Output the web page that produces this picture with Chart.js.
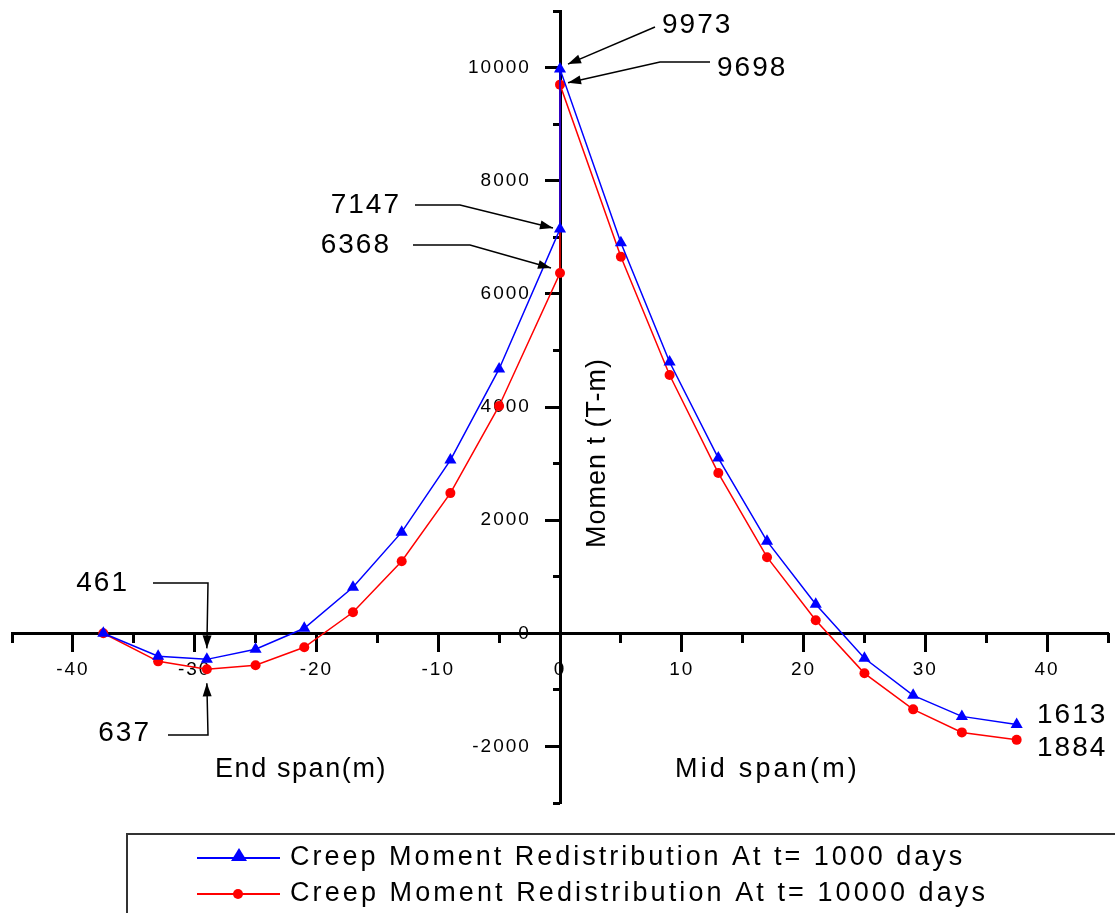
<!DOCTYPE html>
<html lang="en">

<head>
    <meta charset="UTF-8">
    <title>Creep Moment Redistribution</title>
    <script src="https://cdn.jsdelivr.net/npm/chart.js"></script>
    <style>
        html, body { margin: 0; padding: 0; background: #fff; }
        #wrap { width: 1115px; height: 913px; }
    </style>
</head>

<body>
    <div id="wrap"><canvas id="grafico"></canvas></div>
</body>

</html>

<script>
    // dados (x em m, momento em T-m)
    const spanX = [-37.5, -33, -29, -25, -21, -17, -13, -9, -5, 0, 0, 5, 9, 13, 17, 21, 25, 29, 33, 37.5];
    const moment1000 = [0, -407, -461, -283, 88, 814, 1788, 3062, 4673, 7147, 9973, 6903, 4796, 3097, 1628, 513, -442, -1097, -1469, -1613];
    const moment10000 = [0, -496, -637, -566, -248, 372, 1274, 2478, 4018, 6368, 9698, 6655, 4566, 2832, 1345, 230, -708, -1345, -1752, -1884];
    const seriesLabels = ['Creep Moment Redistribution At t= 1000 days', 'Creep Moment Redistribution At t= 10000 days'];

    const xTicks = [-40, -30, -20, -10, 0, 10, 20, 30, 40];
    const xMinorTicks = [-45, -35, -25, -15, -5, 5, 15, 25, 35, 45];
    const yTicks = [-2000, 0, 2000, 4000, 6000, 8000, 10000];
    const yMinorTicks = [-3000, -1000, 1000, 3000, 5000, 7000, 9000, 11000];

    // pontos destacados: serie, indice do ponto
    const highlights = [[0, 10], [1, 10], [0, 9], [1, 9], [0, 2], [1, 2], [0, 19], [1, 19]];

    const FONT = "'Liberation Sans', Arial, sans-serif";
    const series = [moment1000, moment10000];

    // posicao dos textos e setas (pixels), mesma ordem de highlights
    const noteLayout = [
        { tx: 662, ty: 25, align: 'left', path: [[655, 27]], tip: [8, -5] },
        { tx: 717, ty: 68, align: 'left', path: [[710, 62], [660, 62]], tip: [8, -2] },
        { tx: 401, ty: 205, align: 'right', path: [[415, 205], [460, 205]], tip: [-7, -1] },
        { tx: 391, ty: 245, align: 'right', path: [[413, 245], [470, 245]], tip: [-9, -5] },
        { tx: 129, ty: 583, align: 'right', path: [[153, 583], [208, 583]], tip: [0, -11] },
        { tx: 151, ty: 733, align: 'right', path: [[168, 735], [208, 735]], tip: [0, 14] },
        { tx: 1037, ty: 715, align: 'left' },
        { tx: 1037, ty: 748, align: 'left' }
    ];

    function fitText(ctx, text, width) {
        ctx.letterSpacing = '0px';
        const w = ctx.measureText(text).width;
        ctx.letterSpacing = ((width - w) / text.length).toFixed(2) + 'px';
    }

    function arrow(ctx, pts) {
        ctx.beginPath();
        ctx.moveTo(pts[0][0], pts[0][1]);
        for (let i = 1; i < pts.length; i++) ctx.lineTo(pts[i][0], pts[i][1]);
        ctx.stroke();
        const [x2, y2] = pts[pts.length - 1];
        const [x1, y1] = pts[pts.length - 2];
        const a = Math.atan2(y2 - y1, x2 - x1);
        ctx.beginPath();
        ctx.moveTo(x2, y2);
        ctx.lineTo(x2 - 13 * Math.cos(a) + 4.5 * Math.sin(a), y2 - 13 * Math.sin(a) - 4.5 * Math.cos(a));
        ctx.lineTo(x2 - 13 * Math.cos(a) - 4.5 * Math.sin(a), y2 - 13 * Math.sin(a) + 4.5 * Math.cos(a));
        ctx.closePath();
        ctx.fill();
    }

    const extras = {
        id: 'extras',
        beforeDraw(chart) {
            chart.ctx.letterSpacing = '2px';
        },
        afterDraw(chart) {
            const ctx = chart.ctx;
            const sx = chart.scales.x, sy = chart.scales.y;
            ctx.save();
            ctx.fillStyle = '#000';
            ctx.strokeStyle = '#000';
            ctx.lineWidth = 1.5;

            // valores destacados com setas
            ctx.font = '28px ' + FONT;
            ctx.letterSpacing = '2px';
            ctx.textBaseline = 'middle';
            highlights.forEach(([s, i], k) => {
                const n = noteLayout[k];
                ctx.textAlign = n.align;
                ctx.fillText(String(Math.abs(series[s][i])), n.tx, n.ty);
                if (n.path) {
                    const px = sx.getPixelForValue(spanX[i]) + n.tip[0];
                    const py = sy.getPixelForValue(series[s][i]) + n.tip[1];
                    arrow(ctx, n.path.concat([[px, py]]));
                }
            });

            // titulos dos eixos
            ctx.font = '27px ' + FONT;
            ctx.textAlign = 'left';
            fitText(ctx, 'End span(m)', 172);
            ctx.fillText('End span(m)', 215, 770);
            fitText(ctx, 'Mid span(m)', 185);
            ctx.fillText('Mid span(m)', 675, 770);
            ctx.save();
            ctx.translate(598, 548);
            ctx.rotate(-Math.PI / 2);
            fitText(ctx, 'Momen t (T-m)', 190);
            ctx.fillText('Momen t (T-m)', 0, 0);
            ctx.restore();

            // legenda
            ctx.lineWidth = 2;
            ctx.strokeStyle = '#333';
            ctx.strokeRect(127, 834, 1010, 100);
            chart.data.datasets.forEach((ds, k) => {
                const y = 858 + k * 36;
                ctx.strokeStyle = ds.borderColor;
                ctx.fillStyle = ds.borderColor;
                ctx.lineWidth = 2;
                ctx.beginPath();
                ctx.moveTo(197, y);
                ctx.lineTo(280, y);
                ctx.stroke();
                ctx.beginPath();
                if (ds.pointStyle === 'triangle') {
                    ctx.moveTo(239, y - 10);
                    ctx.lineTo(247, y + 3);
                    ctx.lineTo(231, y + 3);
                    ctx.closePath();
                } else {
                    ctx.arc(238, y, 5, 0, Math.PI * 2);
                }
                ctx.fill();
                ctx.fillStyle = '#000';
                ctx.textAlign = 'left';
                fitText(ctx, ds.label, k === 0 ? 675 : 698);
                ctx.fillText(ds.label, 290, y);
            });
            ctx.restore();
        }
    };

    function semPadding(s) {
        s.paddingTop = 0; s.paddingBottom = 0; s.paddingLeft = 0; s.paddingRight = 0;
        if (s.isHorizontal()) s.height = 0; else s.width = 0;
    }

    function eixo(ticks, tamanho, comLabels, fmt) {
        return {
            type: 'linear',
            afterBuildTicks: s => { s.ticks = ticks.map(v => ({ value: v })); },
            afterFit: semPadding,
            grid: { drawOnChartArea: false, drawTicks: true, tickLength: tamanho, tickWidth: 3, tickColor: '#000' },
            ticks: {
                display: comLabels, color: '#000', autoSkip: false, maxRotation: 0,
                font: { family: FONT, size: 19 }, padding: 8, callback: fmt
            }
        };
    }

    const x = Object.assign(eixo(xTicks, 17, true, v => String(v)), {
        min: -45, max: 45, position: { y: 0 },
        border: { display: true, width: 3, color: '#000' }
    });
    const x2 = Object.assign(eixo(xMinorTicks, 10, false), {
        min: -45, max: 45, position: { y: 0 },
        border: { display: false }
    });
    const y = Object.assign(eixo(yTicks, 14, true, v => v + '    '), {
        min: -3000, max: 11000, position: { x: 0 },
        border: { display: true, width: 3, color: '#000' }
    });
    const y2 = Object.assign(eixo(yMinorTicks, 7, false), {
        min: -3000, max: 11000, position: { x: 0 },
        border: { display: false }
    });

    new Chart(document.getElementById('grafico'), {
        type: 'scatter',
        data: {
            datasets: [
                {
                    label: seriesLabels[0],
                    data: spanX.map((v, i) => ({ x: v, y: moment1000[i] })),
                    showLine: true,
                    borderColor: '#0000ff',
                    backgroundColor: '#0000ff',
                    borderWidth: 1.5,
                    pointStyle: 'triangle',
                    pointRadius: 7,
                    pointBorderWidth: 0
                },
                {
                    label: seriesLabels[1],
                    data: spanX.map((v, i) => ({ x: v, y: moment10000[i] })),
                    showLine: true,
                    borderColor: '#ff0000',
                    backgroundColor: '#ff0000',
                    borderWidth: 1.5,
                    pointStyle: 'circle',
                    pointRadius: 5,
                    pointBorderWidth: 0
                }
            ]
        },
        options: {
            responsive: true,
            maintainAspectRatio: false,
            animation: false,
            devicePixelRatio: 1,
            layout: { padding: { left: 12, right: 5, top: 11, bottom: 110 } },
            scales: { x, x2, y, y2 },
            plugins: { legend: { display: false }, tooltip: { enabled: false } }
        },
        plugins: [extras]
    });
</script>
